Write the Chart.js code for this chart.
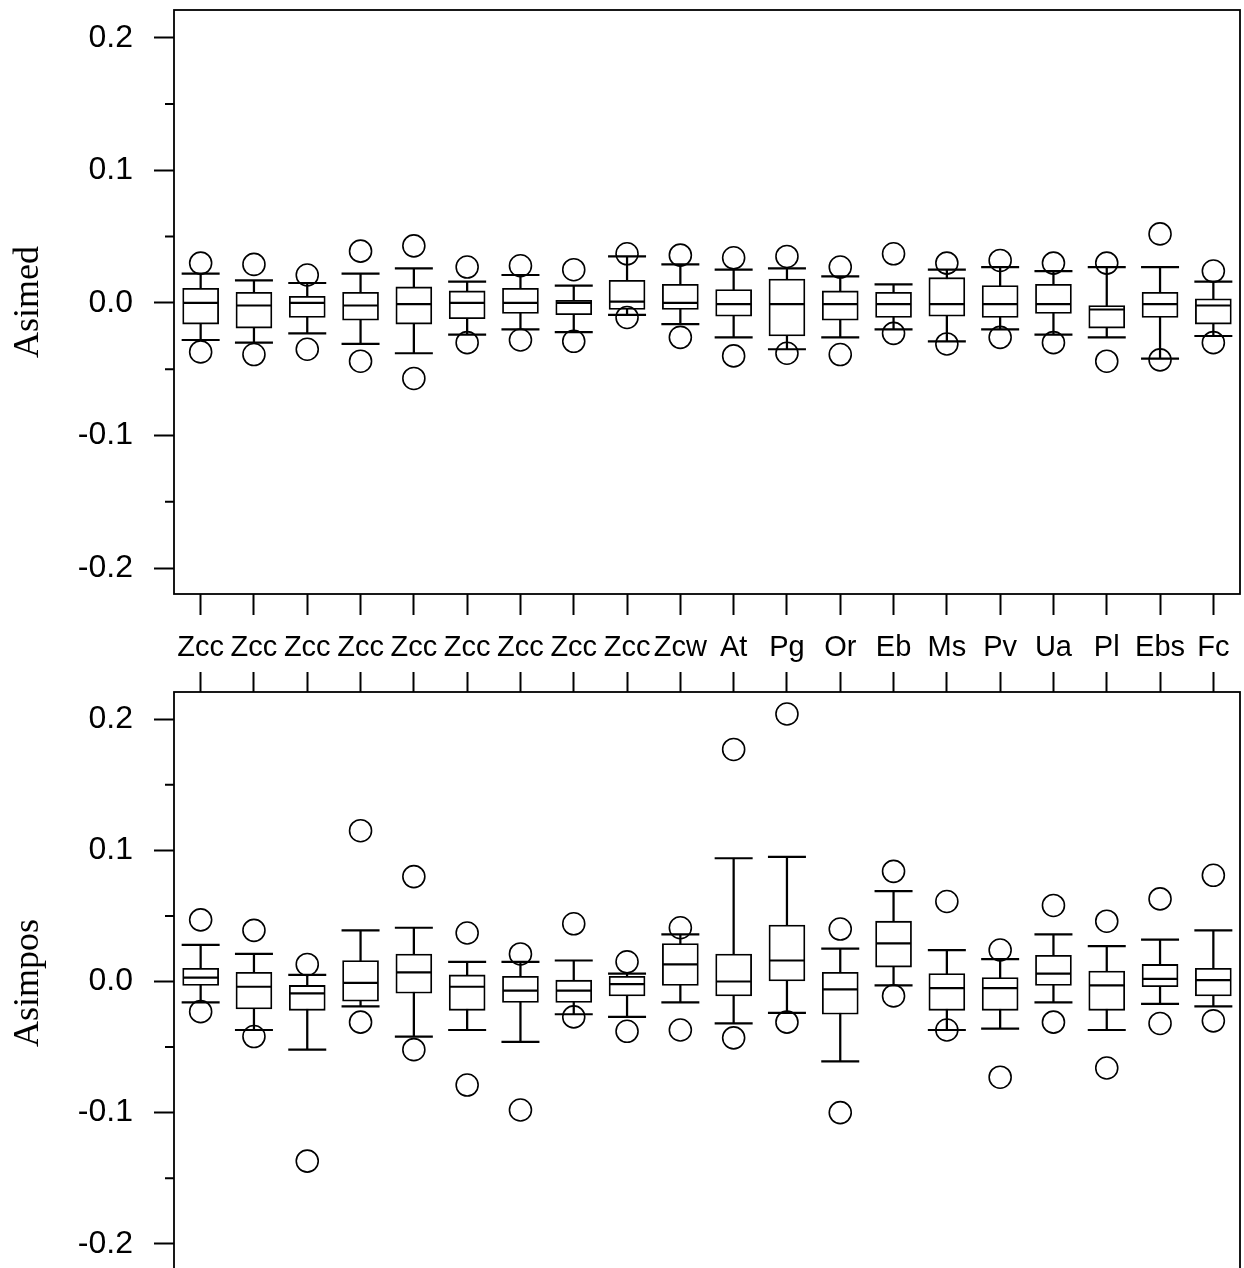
<!DOCTYPE html>
<html>
<head>
<meta charset="utf-8">
<script src="https://cdn.jsdelivr.net/npm/chart.js@4.4.0/dist/chart.umd.min.js"></script>
<style>
  html, body { margin: 0; padding: 0; background: #fff; overflow: hidden; }
  #wrap { position: relative; width: 1244px; height: 1268px; }
  canvas { position: absolute; left: 0; }
  #top-chart { top: 0; }
  #bottom-chart { top: 668px; }
</style>
</head>
<body>
<div id="wrap">
  <canvas id="top-chart" width="1244" height="668"></canvas>
  <canvas id="bottom-chart" width="1244" height="606"></canvas>
</div>
<script>
const categories = ['Zcc', 'Zcc', 'Zcc', 'Zcc', 'Zcc', 'Zcc', 'Zcc', 'Zcc', 'Zcc', 'Zcw',
  'At', 'Pg', 'Or', 'Eb', 'Ms', 'Pv', 'Ua', 'Pl', 'Ebs', 'Fc'];
const yMajor = [-0.2, -0.1, 0, 0.1, 0.2];
const yMinor = [-0.15, -0.05, 0.05, 0.15];

// Asimed (top panel)
const medOutHigh   = [0.030, 0.029, 0.021, 0.039, 0.043, 0.027, 0.028, 0.025, 0.037, 0.036, 0.034, 0.035, 0.027, 0.037, 0.030, 0.032, 0.030, 0.030, 0.052, 0.024];
const medWhiskHigh = [0.022, 0.017, 0.015, 0.022, 0.026, 0.016, 0.021, 0.013, 0.035, 0.029, 0.025, 0.026, 0.020, 0.014, 0.025, 0.027, 0.024, 0.027, 0.027, 0.016];
const medQ3        = [0.011, 0.008, 0.005, 0.008, 0.012, 0.009, 0.011, 0.002, 0.017, 0.014, 0.010, 0.018, 0.009, 0.008, 0.019, 0.013, 0.014, -0.002, 0.008, 0.003];
const medMedian    = [0.000, -0.002, 0.000, -0.002, -0.001, 0.000, 0.000, 0.000, 0.001, 0.000, -0.001, -0.001, -0.001, -0.001, -0.001, -0.001, -0.001, -0.005, -0.001, -0.002];
const medQ1        = [-0.016, -0.019, -0.011, -0.013, -0.016, -0.012, -0.008, -0.009, -0.005, -0.005, -0.010, -0.025, -0.013, -0.011, -0.010, -0.011, -0.008, -0.019, -0.011, -0.016];
const medWhiskLow  = [-0.028, -0.030, -0.023, -0.031, -0.038, -0.024, -0.020, -0.022, -0.009, -0.016, -0.026, -0.035, -0.026, -0.020, -0.029, -0.020, -0.024, -0.026, -0.042, -0.025];
const medOutLow    = [-0.037, -0.039, -0.035, -0.044, -0.057, -0.030, -0.028, -0.029, -0.011, -0.026, -0.040, -0.038, -0.039, -0.023, -0.031, -0.026, -0.030, -0.044, -0.043, -0.030];

// Asimpos (bottom panel)
const posOutHigh   = [0.047, 0.039, 0.013, 0.115, 0.080, 0.037, 0.021, 0.044, 0.015, 0.041, 0.177, 0.204, 0.040, 0.084, 0.061, 0.024, 0.058, 0.046, 0.063, 0.081];
const posWhiskHigh = [0.028, 0.021, 0.005, 0.039, 0.041, 0.015, 0.015, 0.016, 0.006, 0.036, 0.094, 0.095, 0.025, 0.069, 0.024, 0.017, 0.036, 0.027, 0.032, 0.039];
const posQ3        = [0.010, 0.007, -0.003, 0.016, 0.021, 0.005, 0.004, 0.001, 0.004, 0.029, 0.021, 0.043, 0.007, 0.046, 0.006, 0.003, 0.020, 0.008, 0.013, 0.010];
const posMedian    = [0.003, -0.004, -0.009, -0.001, 0.007, -0.004, -0.007, -0.007, -0.002, 0.013, 0.000, 0.016, -0.006, 0.029, -0.005, -0.005, 0.006, -0.003, 0.002, 0.001];
const posQ1        = [-0.003, -0.021, -0.022, -0.015, -0.009, -0.022, -0.016, -0.016, -0.011, -0.003, -0.011, 0.000, -0.025, 0.011, -0.022, -0.022, -0.003, -0.022, -0.004, -0.011];
const posWhiskLow  = [-0.016, -0.037, -0.052, -0.019, -0.042, -0.037, -0.046, -0.025, -0.027, -0.016, -0.032, -0.024, -0.061, -0.003, -0.037, -0.036, -0.016, -0.037, -0.017, -0.019];
const posOutLow    = [-0.023, -0.042, -0.137, -0.031, -0.052, -0.079, -0.098, -0.027, -0.038, -0.037, -0.043, -0.031, -0.100, -0.011, -0.037, -0.073, -0.031, -0.066, -0.032, -0.030];

const sans = 'Liberation Sans, Arial, sans-serif';
const serif = 'Liberation Serif, Times New Roman, serif';

// box outline and minor y ticks
const framePlugin = {
  id: 'frame',
  afterDatasetsDraw(chart) {
    const { ctx, chartArea: a } = chart;
    const y = chart.scales.y;
    ctx.save();
    ctx.strokeStyle = '#000';
    ctx.lineWidth = 1.8;
    ctx.strokeRect(a.left, a.top, a.right - a.left, a.bottom - a.top);
    ctx.lineWidth = 2;
    ctx.beginPath();
    yMinor.forEach(v => {
      const py = y.getPixelForValue(v);
      ctx.moveTo(a.left - 9, py);
      ctx.lineTo(a.left, py);
    });
    ctx.stroke();
    ctx.restore();
  }
};

function pointSet(data, style, radius, width, order) {
  return {
    type: 'line', data, showLine: false, order,
    pointStyle: style, pointRadius: radius, pointHoverRadius: radius,
    pointBorderColor: '#000', pointBorderWidth: width,
    pointBackgroundColor: 'rgba(0,0,0,0)'
  };
}

function boxDatasets(s) {
  const pair = (a, b) => a.map((v, i) => [v, b[i]]);
  return [
    pointSet(s.outHigh, 'circle', 11, 1.6, 0),
    pointSet(s.outLow, 'circle', 11, 1.6, 0),
    pointSet(s.median, 'line', 17.5, 2.2, 1),
    pointSet(s.whiskHigh, 'line', 19, 2.2, 2),
    pointSet(s.whiskLow, 'line', 19, 2.2, 2),
    {
      type: 'bar', data: pair(s.q1, s.q3), grouped: false, barThickness: 36,
      backgroundColor: '#fff', borderColor: '#000', borderWidth: 1.8, borderSkipped: false, order: 3
    },
    {
      type: 'bar', data: pair(s.whiskLow, s.whiskHigh), grouped: false, barThickness: 1.6,
      backgroundColor: '#000', borderWidth: 0, order: 4
    }
  ];
}

function makeChart(id, title, stats, o) {
  return new Chart(document.getElementById(id), {
    type: 'bar',
    data: { labels: categories, datasets: boxDatasets(stats) },
    options: {
      responsive: false,
      animation: false,
      events: [],
      layout: { autoPadding: false, padding: { top: o.padTop, right: 4, left: 0, bottom: 0 } },
      plugins: { legend: { display: false }, tooltip: { enabled: false } },
      scales: {
        x: {
          position: o.xPos,
          offset: true,
          grid: { offset: false, drawOnChartArea: false, tickLength: o.tickLen, tickWidth: 2, tickColor: '#000' },
          border: { display: false },
          ticks: {
            display: o.showLabels, color: '#000', padding: 16,
            autoSkip: false, maxRotation: 0, minRotation: 0,
            font: { family: sans, size: 29 }
          },
          afterFit: a => {
            a.height = o.xHeight;
            a.paddingLeft = 0; a.paddingRight = 0; a.paddingTop = 0; a.paddingBottom = 0;
          }
        },
        y: {
          min: o.min,
          max: o.max,
          afterBuildTicks: a => { a.ticks = yMajor.map(v => ({ value: v })); },
          grid: { drawOnChartArea: false, tickLength: 20, tickWidth: 2, tickColor: '#000' },
          border: { display: false },
          ticks: {
            color: '#000', padding: 21,
            font: { family: sans, size: 32 },
            callback: v => v.toFixed(1)
          },
          title: { display: true, text: title, color: '#000', padding: 7, font: { family: serif, size: 36 } },
          afterFit: a => {
            a.width = 174;
            a.paddingLeft = 0; a.paddingRight = 0; a.paddingTop = 0; a.paddingBottom = 0;
          }
        }
      }
    },
    plugins: [framePlugin]
  });
}

makeChart('top-chart', 'Asimed', {
  outHigh: medOutHigh, whiskHigh: medWhiskHigh, q3: medQ3, median: medMedian,
  q1: medQ1, whiskLow: medWhiskLow, outLow: medOutLow
}, { padTop: 10, xPos: 'bottom', tickLen: 21, showLabels: true, xHeight: 74, min: -0.2196, max: 0.2209 });

makeChart('bottom-chart', 'Asimpos', {
  outHigh: posOutHigh, whiskHigh: posWhiskHigh, q3: posQ3, median: posMedian,
  q1: posQ1, whiskLow: posWhiskLow, outLow: posOutLow
}, { padTop: 4, xPos: 'top', tickLen: 20, showLabels: false, xHeight: 20, min: -0.2231, max: 0.2208 });
</script>
</body>
</html>
